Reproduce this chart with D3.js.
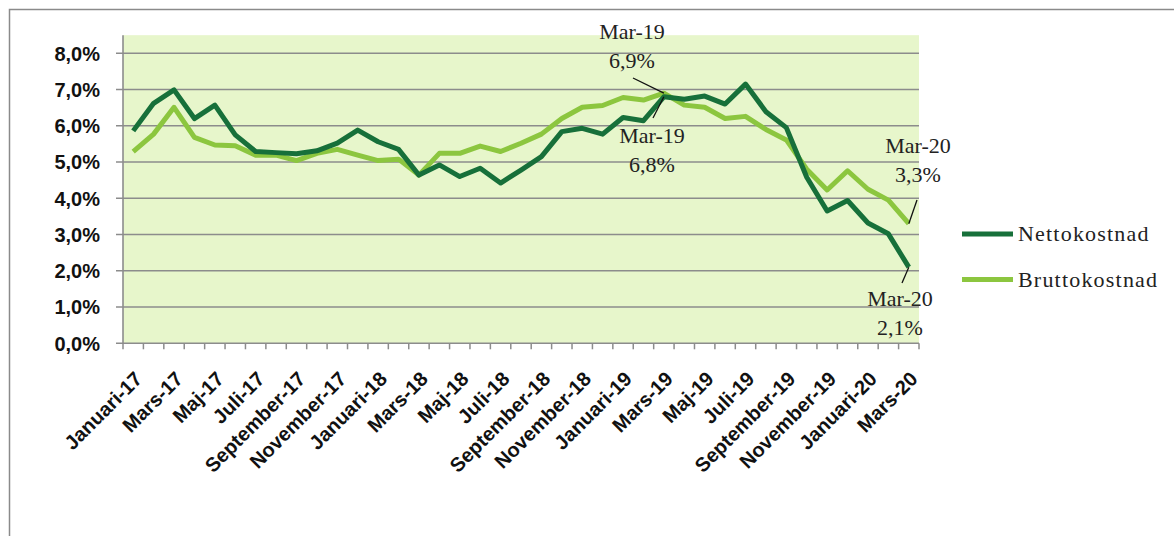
<!DOCTYPE html>
<html>
<head>
<meta charset="utf-8">
<script src="https://cdn.jsdelivr.net/npm/d3@7"></script>
<style>
  body { margin: 0; background: #fff; }
  svg { display: block; }
</style>
</head>
<body>
<svg width="1174" height="536"></svg>
<script>
var months = ['Januari', 'Februari', 'Mars', 'April', 'Maj', 'Juni', 'Juli',
              'Augusti', 'September', 'Oktober', 'November', 'December'];
var categories = [];
for (var yr = 17; yr <= 20; yr++) {
  for (var m = 0; m < 12; m++) {
    if (yr === 20 && m > 2) break;
    categories.push(months[m] + '-' + yr);
  }
}

var netto = [5.86, 6.62, 6.99, 6.2, 6.57, 5.75, 5.29, 5.26, 5.23, 5.31, 5.52, 5.88, 5.56,
             5.35, 4.64, 4.92, 4.6, 4.83, 4.42, 4.78, 5.15, 5.84, 5.93, 5.77, 6.23, 6.14,
             6.8, 6.73, 6.82, 6.6, 7.15, 6.39, 5.95, 4.58, 3.65, 3.94, 3.32, 3.02, 2.1];
var brutto = [5.29, 5.77, 6.51, 5.68, 5.47, 5.45, 5.19, 5.19, 5.04, 5.24, 5.35, 5.19, 5.04,
              5.08, 4.64, 5.24, 5.24, 5.44, 5.29, 5.52, 5.77, 6.2, 6.51, 6.56, 6.78, 6.71,
              6.9, 6.57, 6.51, 6.2, 6.26, 5.9, 5.61, 4.8, 4.23, 4.76, 4.25, 3.95, 3.3];
var yTicks = [0, 1, 2, 3, 4, 5, 6, 7, 8];

var series = [
  {name: 'Nettokostnad', values: netto, color: '#17703a'},
  {name: 'Bruttokostnad', values: brutto, color: '#8cc63f'}
];

// labelled points: series, category, label position and where the leader starts
var callouts = [
  {s: 1, cat: 'Mars-19', tx: 632, ty: 39, lx: 633, ly: 78},
  {s: 0, cat: 'Mars-19', tx: 652, ty: 143, lx: 653, ly: 118},
  {s: 1, cat: 'Mars-20', tx: 918, ty: 153, lx: 917, ly: 200},
  {s: 0, cat: 'Mars-20', tx: 900, ty: 306, lx: 902, ly: 283}
];

var fmt = v => d3.format('.1f')(v).replace('.', ',') + '%';

var svg = d3.select('svg');

// outer chart border
svg.append('rect')
    .attr('x', 9.5).attr('y', 9.5)
    .attr('width', 1200).attr('height', 600)
    .attr('fill', 'none')
    .attr('stroke', '#8a8a8a')
    .attr('stroke-width', 1.5);

var x = d3.scaleBand()
          .domain(categories)
          .range([123, 919])
          .padding(0);
var y = d3.scaleLinear()
          .domain([0, 8])
          .range([343.3, 53.3]);
var cx = c => x(c) + x.bandwidth() / 2;

// plot background
svg.append('rect')
    .attr('x', 123).attr('y', y(8.5))
    .attr('width', 919 - 123)
    .attr('height', y(0) - y(8.5))
    .attr('fill', '#e7f6cb');

// gridlines + y ticks
svg.append('g')
  .selectAll('line')
  .data(yTicks.filter(d => d > 0))
  .enter()
  .append('line')
    .attr('x1', 116).attr('x2', 919)
    .attr('y1', d => y(d)).attr('y2', d => y(d))
    .attr('stroke', '#8c8c8c')
    .attr('stroke-width', 1.6);

svg.append('g')
  .selectAll('text')
  .data(yTicks)
  .enter()
  .append('text')
    .attr('x', 100)
    .attr('y', d => y(d))
    .attr('dy', '0.36em')
    .attr('text-anchor', 'end')
    .style('font', 'bold 20px "Liberation Sans", Arial, sans-serif')
    .attr('fill', '#111')
    .text(fmt);

// axes lines
svg.append('line')
    .attr('x1', 123).attr('x2', 123)
    .attr('y1', y(8.5)).attr('y2', y(0))
    .attr('stroke', '#8c8c8c').attr('stroke-width', 1.6);
svg.append('line')
    .attr('x1', 116).attr('x2', 919)
    .attr('y1', y(0)).attr('y2', y(0))
    .attr('stroke', '#8c8c8c').attr('stroke-width', 1.6);

// x ticks at category boundaries
var bounds = categories.map(c => x(c)).concat([x.range()[1]]);
svg.append('g')
  .selectAll('line')
  .data(bounds)
  .enter()
  .append('line')
    .attr('x1', d => d).attr('x2', d => d)
    .attr('y1', y(0)).attr('y2', y(0) + 6)
    .attr('stroke', '#8c8c8c').attr('stroke-width', 1.5);

// x labels, every other month
svg.append('g')
  .selectAll('text')
  .data(categories.filter((c, i) => i % 2 === 0))
  .enter()
  .append('text')
    .attr('transform', d => 'translate(' + cx(d) + ',' + 370 + ') rotate(-45)')
    .attr('dy', '0.72em')
    .attr('text-anchor', 'end')
    .style('font', 'bold 20px "Liberation Sans", Arial, sans-serif')
    .attr('fill', '#111')
    .text(d => d.replace(/-/, '-'));

// lines
var line = d3.line()
             .x((d, i) => cx(categories[i]))
             .y(d => y(d));

svg.append('g')
  .selectAll('path')
  .data(series.slice().reverse())
  .enter()
  .append('path')
    .attr('d', d => line(d.values))
    .attr('fill', 'none')
    .attr('stroke', d => d.color)
    .attr('stroke-width', 5)
    .attr('stroke-linejoin', 'round');

// data callouts
var labelFont = '22px "Liberation Serif", "Times New Roman", serif';
var co = svg.append('g')
  .selectAll('g')
  .data(callouts)
  .enter()
  .append('g');

co.append('line')
    .attr('x1', d => d.lx).attr('y1', d => d.ly)
    .attr('x2', d => cx(d.cat))
    .attr('y2', d => y(series[d.s].values[categories.indexOf(d.cat)]))
    .attr('stroke', '#111').attr('stroke-width', 1.3);

co.append('text')
    .attr('x', d => d.tx).attr('y', d => d.ty)
    .attr('text-anchor', 'middle')
    .style('font', labelFont)
    .attr('fill', '#222')
    .text(d => d.cat.replace('Mars', 'Mar'));

co.append('text')
    .attr('x', d => d.tx).attr('y', d => d.ty + 29)
    .attr('text-anchor', 'middle')
    .style('font', labelFont)
    .attr('fill', '#222')
    .text(d => fmt(series[d.s].values[categories.indexOf(d.cat)]));

// legend
var legend = svg.append('g')
  .selectAll('g')
  .data(series)
  .enter()
  .append('g')
    .attr('transform', (d, i) => 'translate(962,' + (234 + i * 45.5) + ')');

legend.append('line')
    .attr('x1', 0).attr('x2', 51)
    .attr('stroke', d => d.color)
    .attr('stroke-width', 5);

legend.append('text')
    .attr('x', 56)
    .attr('y', 7)
    .style('font', labelFont)
    .style('letter-spacing', '1.2px')
    .attr('fill', '#222')
    .text(d => d.name);
</script>
</body>
</html>
